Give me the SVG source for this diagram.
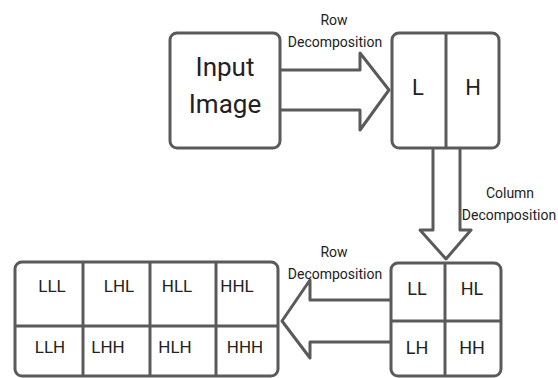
<svg xmlns="http://www.w3.org/2000/svg" width="558" height="378" viewBox="0 0 558 378">
<style>
.box{fill:#fff;stroke:#5a5a5a;stroke-width:3}
.ln{fill:none;stroke:#5a5a5a;stroke-width:3}
.arr{fill:#fff;stroke:#5a5a5a;stroke-width:3;stroke-linejoin:round}
text{font-family:Roboto,"Liberation Sans",sans-serif;fill:#222;text-anchor:middle}
.lbl{font-size:14px}
.big{font-size:26px}
.mid{font-size:22px}
.cell{font-size:18px}
.sm{font-size:17px}
</style>
<rect width="558" height="378" fill="#fff"/>
<g id="connectors">
<path class="arr" d="M280,70 L360,70 L360,53 L389,90 L360,130 L360,110 L280,110"/>
<path class="arr" d="M433,148 L433,230 L420,230 L446,259 L471,230 L460,230 L460,148"/>
<path class="arr" d="M391,300 L310,300 L310,280 L282,321 L310,358 L310,342 L391,342"/>
<text class="lbl" x="334" y="25">Row</text>
<text class="lbl" x="335" y="47">Decomposition</text>
<text class="lbl" x="510" y="198">Column</text>
<text class="lbl" x="509" y="220">Decomposition</text>
<text class="lbl" x="334" y="257">Row</text>
<text class="lbl" x="335" y="279">Decomposition</text>
</g>
<g id="input-image">
<rect class="box" x="170" y="33" width="110" height="115" rx="7"/>
<text class="big" x="225" y="76">Input</text>
<text class="big" x="225" y="113">Image</text>
</g>
<g id="lh">
<rect class="box" x="392" y="33" width="107" height="115" rx="7"/>
<line class="ln" x1="446" y1="33" x2="446" y2="148"/>
<text class="mid" x="418" y="95">L</text>
<text class="mid" x="473" y="95">H</text>
</g>
<g id="ll-hl-lh-hh">
<rect class="box" x="391" y="263" width="110" height="113" rx="7"/>
<line class="ln" x1="445" y1="263" x2="445" y2="376"/>
<line class="ln" x1="391" y1="321" x2="501" y2="321"/>
<text class="cell" x="417" y="295">LL</text>
<text class="cell" x="472" y="295">HL</text>
<text class="cell" x="417" y="354">LH</text>
<text class="cell" x="472" y="354">HH</text>
</g>
<g id="third-level">
<rect class="box" x="15" y="262" width="263" height="114" rx="7"/>
<line class="ln" x1="83" y1="262" x2="83" y2="376"/>
<line class="ln" x1="150" y1="262" x2="150" y2="376"/>
<line class="ln" x1="216" y1="262" x2="216" y2="376"/>
<line class="ln" x1="15" y1="326" x2="278" y2="326"/>
<text class="sm" x="52" y="292">LLL</text>
<text class="sm" x="119" y="292">LHL</text>
<text class="sm" x="177" y="292">HLL</text>
<text class="sm" x="237" y="292">HHL</text>
<text class="sm" x="50" y="353">LLH</text>
<text class="sm" x="108" y="353">LHH</text>
<text class="sm" x="175" y="353">HLH</text>
<text class="sm" x="245" y="353">HHH</text>
</g>
</svg>
